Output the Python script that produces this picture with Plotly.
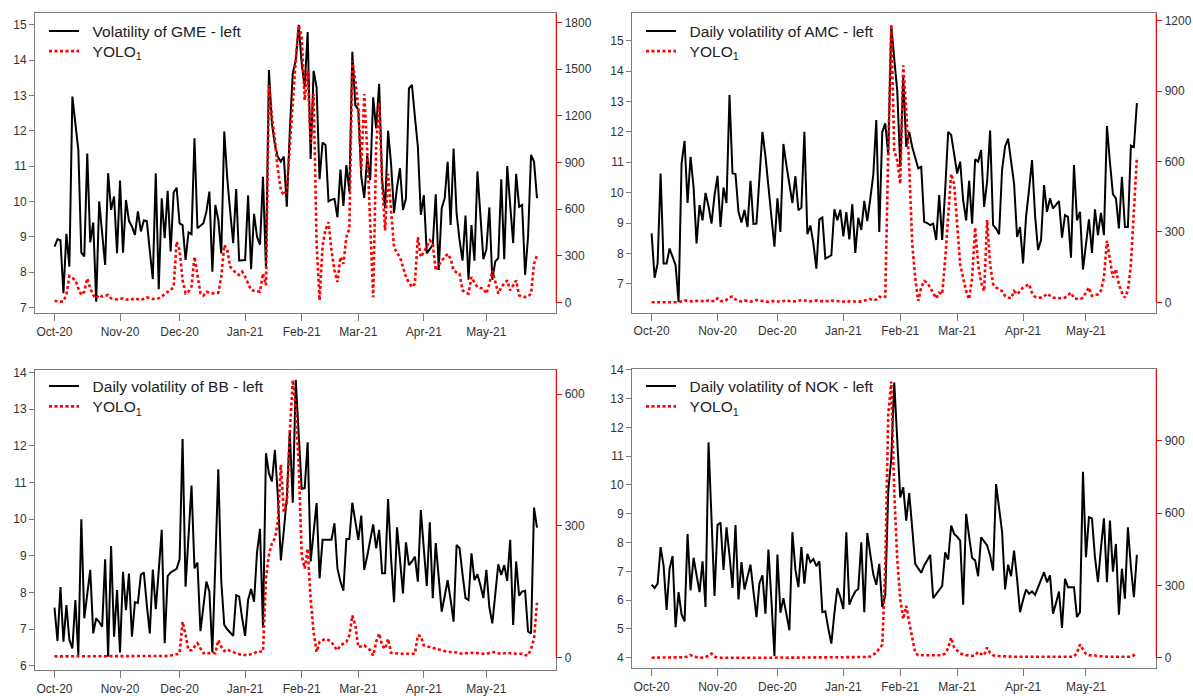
import plotly.graph_objects as go

# ---------------- data ----------------
month_labels = ["Oct-20", "Nov-20", "Dec-20", "Jan-21", "Feb-21", "Mar-21", "Apr-21", "May-21"]
month_start_index = [0, 22, 42, 64, 83, 102, 124, 145]   # trading-day index of first day of month

gme_vol = [
    8.72, 8.93, 8.9, 7.4, 9.08, 8.15, 12.97, 12.2, 11.46, 8.55, 8.44, 11.36, 8.84, 9.4, 7.16, 10.0, 9.1, 8.2, 10.8, 9.76, 10.14, 8.53,
    10.59, 8.55, 10.04, 9.45, 9.29, 9.05, 9.72, 9.15, 9.46, 9.44, 8.6, 7.8, 10.8, 7.51, 10.09, 8.96, 10.3, 8.58, 10.25, 10.39,
    9.38, 9.33, 8.34, 9.12, 9.07, 11.79, 9.24, 9.3, 9.38, 9.71, 10.28, 8.01, 9.9, 9.48, 8.53, 11.98, 10.66, 9.7, 8.82, 10.35, 8.32, 8.33,
    8.34, 10.17, 8.08, 9.65, 9.0, 8.77, 10.7, 8.1, 13.72, 12.2, 11.6, 11.26, 11.13, 11.27, 9.85, 12.0, 13.63, 14.0, 15.0,
    13.9, 13.25, 14.8, 11.2, 13.7, 13.23, 10.63, 11.67, 11.6, 10.0, 10.05, 10.07, 9.55, 10.9, 9.87, 11.03, 10.28, 14.24, 12.73,
    12.6, 10.7, 10.1, 11.29, 10.6, 12.95, 12.07, 13.33, 10.6, 9.81, 12.0, 11.07, 9.67, 10.4, 10.94, 9.76, 10.09, 13.2, 13.3, 12.4, 11.55, 9.62,
    10.18, 8.53, 8.64, 8.77, 10.2, 8.06, 9.81, 10.09, 11.12, 9.33, 11.5, 9.67, 8.9, 8.32, 9.6, 7.78, 9.33, 8.32, 10.85, 9.52, 8.36,
    8.64, 9.83, 7.78, 8.3, 8.39, 10.63, 8.36, 11.0, 9.9, 8.82, 10.78, 9.85, 9.9, 7.92, 9.0, 11.32, 11.13, 10.09,
]
gme_yolo = [
    11, 8, 7, 9, 50, 171, 160, 146, 92, 50, 71, 156, 92, 50, 28, 50, 39, 45, 50, 28, 25, 21,
    24, 28, 22, 17, 22, 28, 22, 17, 25, 34, 30, 24, 26, 28, 40, 56, 70, 81, 103, 392,
    338, 146, 60, 71, 103, 295, 167, 60, 45, 71, 65, 60, 62, 64, 167, 370, 338, 231, 210, 188, 178, 199,
    167, 120, 81, 77, 74, 71, 188, 113, 1397, 1194, 1044, 852, 723, 691, 723, 1023, 1322, 1558, 1782,
    1707, 1300, 1490, 1020, 1340, 380, 15, 368, 470, 517, 336, 207, 133, 293, 250, 421, 475, 1554, 1426,
    1255, 849, 1340, 977, 507, 36, 998, 1287, 763, 464, 827, 614, 357, 320, 293, 230, 165, 130, 100, 122, 421, 293,
    325, 360, 400, 378, 207, 240, 272, 290, 314, 282, 207, 195, 186, 79, 65, 58, 165, 130, 100, 95, 90,
    58, 120, 207, 122, 58, 100, 120, 143, 79, 110, 143, 47, 40, 36, 40, 58, 250, 304,
]

amc_vol = [
    8.66, 7.2, 7.67, 10.63, 7.67, 7.67, 8.16, 7.9, 7.61, 6.4, 10.96, 11.7, 9.66, 11.18, 10.19, 8.33, 9.59, 9.09, 9.99, 9.55, 8.98, 9.91,
    10.55, 8.87, 10.17, 9.66, 13.21, 10.63, 10.61, 9.37, 9.02, 9.43, 8.87, 10.39, 8.97, 8.98, 10.41, 12.0, 11.2, 10.3, 9.2, 8.22,
    9.81, 8.71, 11.6, 10.9, 10.3, 9.66, 10.54, 9.42, 9.5, 12.0, 8.63, 8.92, 8.33, 7.5, 9.12, 9.18, 7.83, 7.9, 7.94, 9.45, 9.09, 9.44,
    8.56, 9.36, 8.46, 9.62, 8.02, 9.17, 8.77, 9.73, 9.06, 9.8, 10.58, 12.39, 8.71, 12.0, 12.28, 11.23, 15.5, 14.4, 13.35,
    10.85, 13.81, 11.51, 12.0, 11.5, 11.1, 10.8, 10.85, 9.04, 9.0, 8.93, 8.98, 8.44, 9.92, 8.44, 10.08, 12.0, 11.9, 11.2,
    10.63, 11.02, 9.75, 9.09, 10.39, 8.98, 11.1, 11.02, 11.4, 9.53, 10.36, 12.04, 8.93, 8.82, 8.63, 10.76, 11.51, 11.78, 11.07, 10.3, 8.54, 8.87,
    7.67, 9.2, 10.1, 11.07, 9.26, 8.11, 8.44, 10.25, 9.37, 9.81, 9.48, 9.59, 9.72, 8.52, 9.26, 9.2, 7.86, 10.91, 9.09, 9.37, 7.47,
    8.3, 9.12, 8.02, 9.45, 8.6, 9.33, 8.6, 12.19, 11.0, 9.95, 9.81, 8.82, 10.52, 8.87, 8.87, 11.55, 11.5, 12.95,
]
amc_yolo = [
    0, 0, 0, 2, 1, 0, 2, 3, 1, 0, 5, 8, 6, 4, 3, 6, 7, 5, 3, 8, 6, 4,
    17, 6, 4, 10, 22, 24, 12, 6, 4, 8, 5, 3, 6, 10, 8, 4, 3, 2, 5, 6,
    4, 3, 6, 9, 5, 3, 4, 6, 10, 8, 5, 4, 6, 8, 5, 4, 3, 5, 7, 6, 4, 3,
    3, 2, 4, 3, 2, 3, 4, 6, 10, 14, 8, 12, 24, 20, 24, 647, 1181, 647, 604,
    504, 1010, 818, 576, 248, 105, 6, 63, 91, 84, 63, 41, 17, 41, 34, 184, 390, 547, 504,
    333, 162, 105, 48, 13, 105, 319, 162, 84, 48, 351, 162, 77, 63, 55, 48, 27, 20, 17, 48, 34, 50,
    63, 70, 77, 40, 23, 20, 20, 25, 37, 28, 20, 18, 17, 17, 20, 30, 41, 17, 15, 13, 20,
    40, 63, 27, 30, 34, 50, 105, 262, 191, 105, 141, 77, 41, 20, 50, 162, 390, 618,
]

bb_vol = [
    7.59, 6.68, 8.15, 6.66, 7.66, 6.71, 6.48, 7.8, 6.3, 10.0, 7.3, 8.03, 8.62, 6.89, 7.3, 7.2, 7.07, 8.91, 6.25, 9.27, 6.8, 8.07,
    6.37, 8.57, 7.52, 8.52, 6.8, 7.74, 7.72, 8.49, 8.55, 7.66, 6.89, 8.63, 7.55, 8.6, 9.71, 6.62, 8.45, 8.55, 8.6, 8.65,
    8.9, 12.19, 8.16, 9.6, 10.92, 8.66, 8.82, 6.95, 7.6, 8.3, 8.03, 6.37, 8.8, 11.36, 8.3, 7.12, 7.0, 6.9, 6.82, 7.93, 7.89, 7.3,
    6.82, 7.8, 8.1, 7.75, 9.1, 9.74, 7.05, 11.8, 11.25, 11.03, 11.89, 10.62, 8.88, 9.7, 10.58, 12.39, 10.45, 13.8, 12.3,
    10.83, 10.85, 12.1, 8.85, 9.6, 10.44, 8.39, 9.44, 9.44, 9.44, 9.44, 9.89, 8.66, 8.3, 8.05, 9.46, 9.46, 10.45, 10.0,
    9.44, 10.1, 8.62, 9.0, 9.4, 9.86, 9.21, 9.71, 8.53, 8.53, 10.55, 8.94, 7.74, 9.78, 8.9, 7.98, 9.37, 8.75, 8.85, 8.98, 8.3, 10.25,
    9.2, 8.18, 9.92, 7.85, 9.35, 8.4, 7.48, 7.9, 8.34, 7.8, 7.21, 9.3, 9.21, 8.5, 7.85, 7.8, 9.07, 8.34, 8.5, 8.2, 7.85,
    8.62, 7.6, 7.16, 8.0, 8.77, 8.48, 8.75, 8.32, 9.44, 7.12, 8.85, 7.92, 8.03, 8.05, 6.94, 6.89, 10.32, 9.77,
]
bb_yolo = [
    3, 3, 4, 3, 3, 4, 3, 3, 4, 3, 3, 4, 3, 3, 4, 3, 3, 4, 3, 3, 4, 3,
    3, 4, 3, 3, 4, 3, 3, 4, 3, 3, 4, 3, 3, 4, 3, 3, 4, 5, 6, 8,
    10, 82, 52, 17, 17, 25, 33, 21, 10, 12, 10, 12, 10, 40, 25, 15, 19, 15, 12, 10, 8, 6,
    6, 6, 8, 10, 14, 14, 14, 181, 234, 260, 272, 310, 439, 332, 347, 514, 632, 567, 438,
    233, 203, 248, 134, 58, 13, 36, 39, 43, 40, 36, 25, 17, 28, 32, 36, 51, 96, 74,
    24, 26, 28, 22, 17, 5, 36, 55, 28, 20, 43, 11, 10, 9, 9, 9, 9, 9, 9, 9, 51, 49,
    28, 26, 24, 22, 20, 18, 17, 15, 13, 13, 13, 12, 10, 9, 10, 11, 11, 11, 10, 9, 9,
    9, 10, 12, 13, 10, 9, 10, 11, 10, 9, 9, 9, 9, 6, 5, 20, 43, 125,
]

nok_vol = [
    6.54, 6.42, 6.57, 7.84, 7.2, 5.66, 7.09, 7.53, 5.06, 6.28, 5.5, 5.26, 8.3, 6.34, 7.47, 6.8, 6.28, 7.35, 5.76, 11.48, 8.8, 6.14,
    8.61, 8.7, 7.05, 8.53, 7.55, 6.42, 8.61, 6.02, 7.32, 6.37, 6.8, 7.23, 6.3, 5.41, 6.59, 6.86, 5.53, 7.76, 5.99, 4.06,
    7.58, 5.56, 6.07, 5.5, 4.95, 8.36, 7.06, 6.45, 7.84, 6.57, 7.61, 7.32, 7.43, 7.18, 7.35, 5.58, 5.61, 5.0, 4.49, 5.53, 6.42, 6.1,
    5.69, 8.36, 5.84, 6.1, 6.3, 6.39, 8.01, 5.58, 8.33, 7.6, 6.9, 6.53, 7.26, 5.76, 6.16, 9.8, 10.9, 13.56, 11.5,
    9.57, 9.92, 8.76, 9.72, 8.5, 7.26, 7.1, 6.95, 7.2, 7.4, 7.57, 6.07, 6.2, 6.35, 6.49, 7.66, 7.41, 8.59, 8.3,
    8.2, 8.07, 5.84, 9.0, 8.2, 7.46, 7.38, 6.83, 8.18, 8.05, 7.9, 7.55, 7.03, 10.03, 9.2, 8.36, 6.37, 7.23, 6.83, 7.72, 6.74, 5.58,
    6.0, 6.37, 6.22, 6.3, 6.18, 6.41, 6.7, 6.97, 6.62, 6.86, 5.53, 5.9, 6.3, 5.03, 6.74, 6.45, 6.45, 6.45, 5.41, 5.58, 10.46,
    7.49, 8.88, 8.84, 7.5, 6.62, 7.8, 8.84, 6.62, 8.76, 6.99, 7.95, 5.49, 7.09, 6.05, 8.53, 7.15, 6.1, 7.57,
]
nok_yolo = [
    0, 0, 0, 1, 0, 0, 1, 0, 0, 1, 0, 2, 5, 11, 4, 2, 1, 0, 2, 8, 17, 4,
    1, 0, 0, 1, 0, 0, 0, 1, 0, 0, 0, 1, 0, 0, 0, 1, 0, 0, 0, 1,
    0, 0, 1, 0, 0, 0, 1, 0, 0, 0, 1, 0, 0, 0, 1, 0, 0, 0, 1, 0, 0, 1,
    0, 1, 0, 0, 1, 0, 1, 2, 3, 5, 14, 20, 39, 53, 384, 1006, 1145, 687, 409,
    243, 160, 215, 146, 76, 21, 10, 10, 10, 8, 7, 7, 7, 7, 10, 18, 40, 83, 42,
    30, 18, 14, 10, 8, 7, 10, 24, 15, 10, 42, 20, 10, 7, 6, 5, 4, 4, 4, 4, 4, 4,
    4, 4, 4, 4, 4, 4, 4, 4, 4, 4, 4, 4, 4, 4, 4, 4, 4, 4, 20, 55, 35,
    15, 10, 10, 10, 8, 6, 4, 4, 4, 4, 4, 4, 4, 4, 4, 4, 10, 18,
]

vol_names = ["Volatility of GME - left", "Daily volatility of AMC - left",
             "Daily volatility of BB - left", "Daily volatility of NOK - left"]
yolo_name = "YOLO<sub>1</sub>"
left_ticks = [list(range(7, 16)), list(range(7, 16)), list(range(6, 15)), list(range(4, 15))]
right_ticks = [[0, 300, 600, 900, 1200, 1500, 1800], [0, 300, 600, 900, 1200], [0, 300, 600], [0, 300, 600, 900]]

vol_series = [gme_vol, amc_vol, bb_vol, nok_vol]
yolo_series = [gme_yolo, amc_yolo, bb_yolo, nok_yolo]

# ---------------- layout / style ----------------
W, H = 1193, 696
FONT = "Liberation Sans, Arial, sans-serif"
BOX = "#7c7c7c"
TXT = "#333333"

# pixel boxes of the four plot areas: (left, right, top, bottom)
boxes = [(35.2, 556.3, 13.3, 313.3), (632.2, 1156.3, 13.3, 312.7),
         (35.2, 556.3, 370.0, 670.0), (632.2, 1156.3, 369.3, 668.3)]
left_ranges = [[6.83, 15.33], [6.05, 15.9], [5.89, 14.07], [3.63, 14.02]]
right_ranges = [[-68, 1858], [-44.3, 1231.5], [-28, 654.6], [-44, 1196]]
x_range = [-6.48, 168.48]
# legend anchor: left edge and row centres in pixels
legend_x = [44, 641, 44, 641]
legend_row_centers = [(31.7, 50.7), (31.7, 50.7), (386.7, 406.0), (386.7, 406.0)]
legend_row_offset = (17.2, 16.2)

fig = go.Figure()
layout = dict(width=W, height=H, margin=dict(l=0, r=0, t=0, b=0, pad=0), autosize=False,
              paper_bgcolor="white", plot_bgcolor="white", showlegend=True,
              font=dict(family=FONT, size=12, color=TXT))
shapes = []

for i in range(4):
    xa = "x" if i == 0 else f"x{i + 1}"
    yl = "y" if i == 0 else f"y{2 * i + 1}"
    yr = f"y{2 * i + 2}"
    lg_a = "legend" if i == 0 else f"legend{2 * i + 1}"
    lg_b = f"legend{2 * i + 2}"
    xs = list(range(len(vol_series[i])))
    xs_r = list(range(len(yolo_series[i])))

    fig.add_trace(go.Scatter(x=xs, y=vol_series[i], mode="lines",
                             line=dict(color="black", width=2),
                             name="\u00a0\u00a0" + vol_names[i],
                             xaxis=xa, yaxis=yl, legend=lg_a, hoverinfo="skip"))
    fig.add_trace(go.Scatter(x=xs_r, y=yolo_series[i], mode="lines",
                             line=dict(color="red", width=2.6, dash="3px,2.5px"),
                             name="\u00a0\u00a0" + yolo_name,
                             xaxis=xa, yaxis=yr, legend=lg_b, hoverinfo="skip"))

    l, r, t, b = boxes[i]
    xdom = [l / W, r / W]
    ydom = [1 - b / H, 1 - t / H]
    xkey = "xaxis" if i == 0 else f"xaxis{i + 1}"
    ylkey = "yaxis" if i == 0 else f"yaxis{2 * i + 1}"
    yrkey = f"yaxis{2 * i + 2}"

    layout[xkey] = dict(domain=xdom, range=x_range, anchor=yl, automargin=False,
                        tickmode="array", tickvals=month_start_index, ticktext=month_labels,
                        ticks="outside", ticklen=7, tickwidth=1, tickcolor=BOX,
                        showline=True, mirror=True, linecolor=BOX, linewidth=1.3,
                        showgrid=False, zeroline=False,
                        tickfont=dict(family=FONT, size=12, color=TXT))
    layout[ylkey] = dict(domain=ydom, range=left_ranges[i], anchor=xa, automargin=False,
                         tickmode="array", tickvals=left_ticks[i],
                         ticks="outside", ticklen=5, tickwidth=1, tickcolor=BOX,
                         showline=True, mirror=True, linecolor=BOX, linewidth=1.3,
                         showgrid=False, zeroline=False,
                         tickfont=dict(family=FONT, size=12, color=TXT))
    layout[yrkey] = dict(overlaying=yl, side="right", anchor=xa, range=right_ranges[i],
                         automargin=False,
                         tickmode="array", tickvals=right_ticks[i],
                         ticks="outside", ticklen=5, tickwidth=1, tickcolor="red",
                         showline=False, showgrid=False, zeroline=False,
                         tickfont=dict(family=FONT, size=12, color=TXT))
    shapes.append(dict(type="line", xref=f"{xa} domain", yref=yr, x0=1, x1=1,
                       y0=0, y1=right_ranges[i][1], line=dict(color="red", width=1.2),
                       layer="above"))

    for lg, cy, off in ((lg_a, legend_row_centers[i][0], legend_row_offset[0]),
                        (lg_b, legend_row_centers[i][1], legend_row_offset[1])):
        layout[lg] = dict(x=legend_x[i] / W, y=1 - (cy - off) / H, xanchor="left", yanchor="top",
                          bgcolor="rgba(0,0,0,0)", borderwidth=0, tracegroupgap=0,
                          font=dict(family=FONT, size=15.5, color="#222222"))

layout["shapes"] = shapes
fig.update_layout(**layout)
fig.write_html("out.html", config={"displayModeBar": False, "responsive": False},
               post_script="document.body.style.margin='0';document.body.style.padding='0';"
                           "document.body.style.overflow='hidden';")
